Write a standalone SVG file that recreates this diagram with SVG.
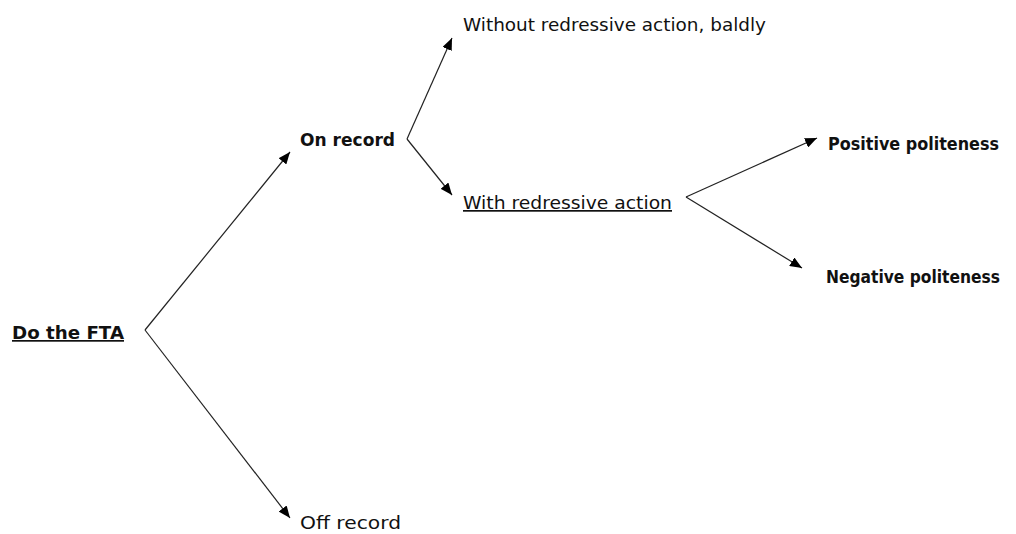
<svg xmlns="http://www.w3.org/2000/svg" width="1016" height="534" viewBox="0 0 1016 534">
<style>
text{font-family:"DejaVu Sans","Liberation Sans",sans-serif;font-size:17px;fill:#111}
.b{font-weight:bold}
.u{text-decoration:underline}
.c{stroke:#222;stroke-width:1.2;fill:none;marker-end:url(#ah)}
</style>
<defs>
<marker id="ah" viewBox="0 0 12 10" refX="12" refY="5" markerWidth="12" markerHeight="10" markerUnits="userSpaceOnUse" orient="auto">
<path d="M0,0 L12,5 L0,10 Z" fill="#000"/>
</marker>
</defs>
<rect width="1016" height="534" fill="#fff"/>
<g id="connectors">
<path class="c" d="M145,330 L290,152"/>
<path class="c" d="M145,330 L290,518"/>
<path class="c" d="M407,139 L452,38"/>
<path class="c" d="M407,139 L452,195"/>
<path class="c" d="M686,197 L817,138"/>
<path class="c" d="M686,197 L802,268"/>
</g>
<g id="n-fta"><text class="b u" x="12" y="339" textLength="112" lengthAdjust="spacingAndGlyphs">Do the FTA</text></g>
<g id="n-on"><text class="b" x="300" y="146" textLength="95" lengthAdjust="spacingAndGlyphs">On record</text></g>
<g id="n-off"><text x="300" y="529" textLength="101" lengthAdjust="spacingAndGlyphs">Off record</text></g>
<g id="n-bald"><text x="463" y="31" textLength="303" lengthAdjust="spacingAndGlyphs">Without redressive action, baldly</text></g>
<g id="n-with"><text class="u" x="463" y="209" textLength="209" lengthAdjust="spacingAndGlyphs">With redressive action</text></g>
<g id="n-pos"><text class="b" x="828" y="150" textLength="171" lengthAdjust="spacingAndGlyphs">Positive politeness</text></g>
<g id="n-neg"><text class="b" x="826" y="283" textLength="174" lengthAdjust="spacingAndGlyphs">Negative politeness</text></g>
</svg>
